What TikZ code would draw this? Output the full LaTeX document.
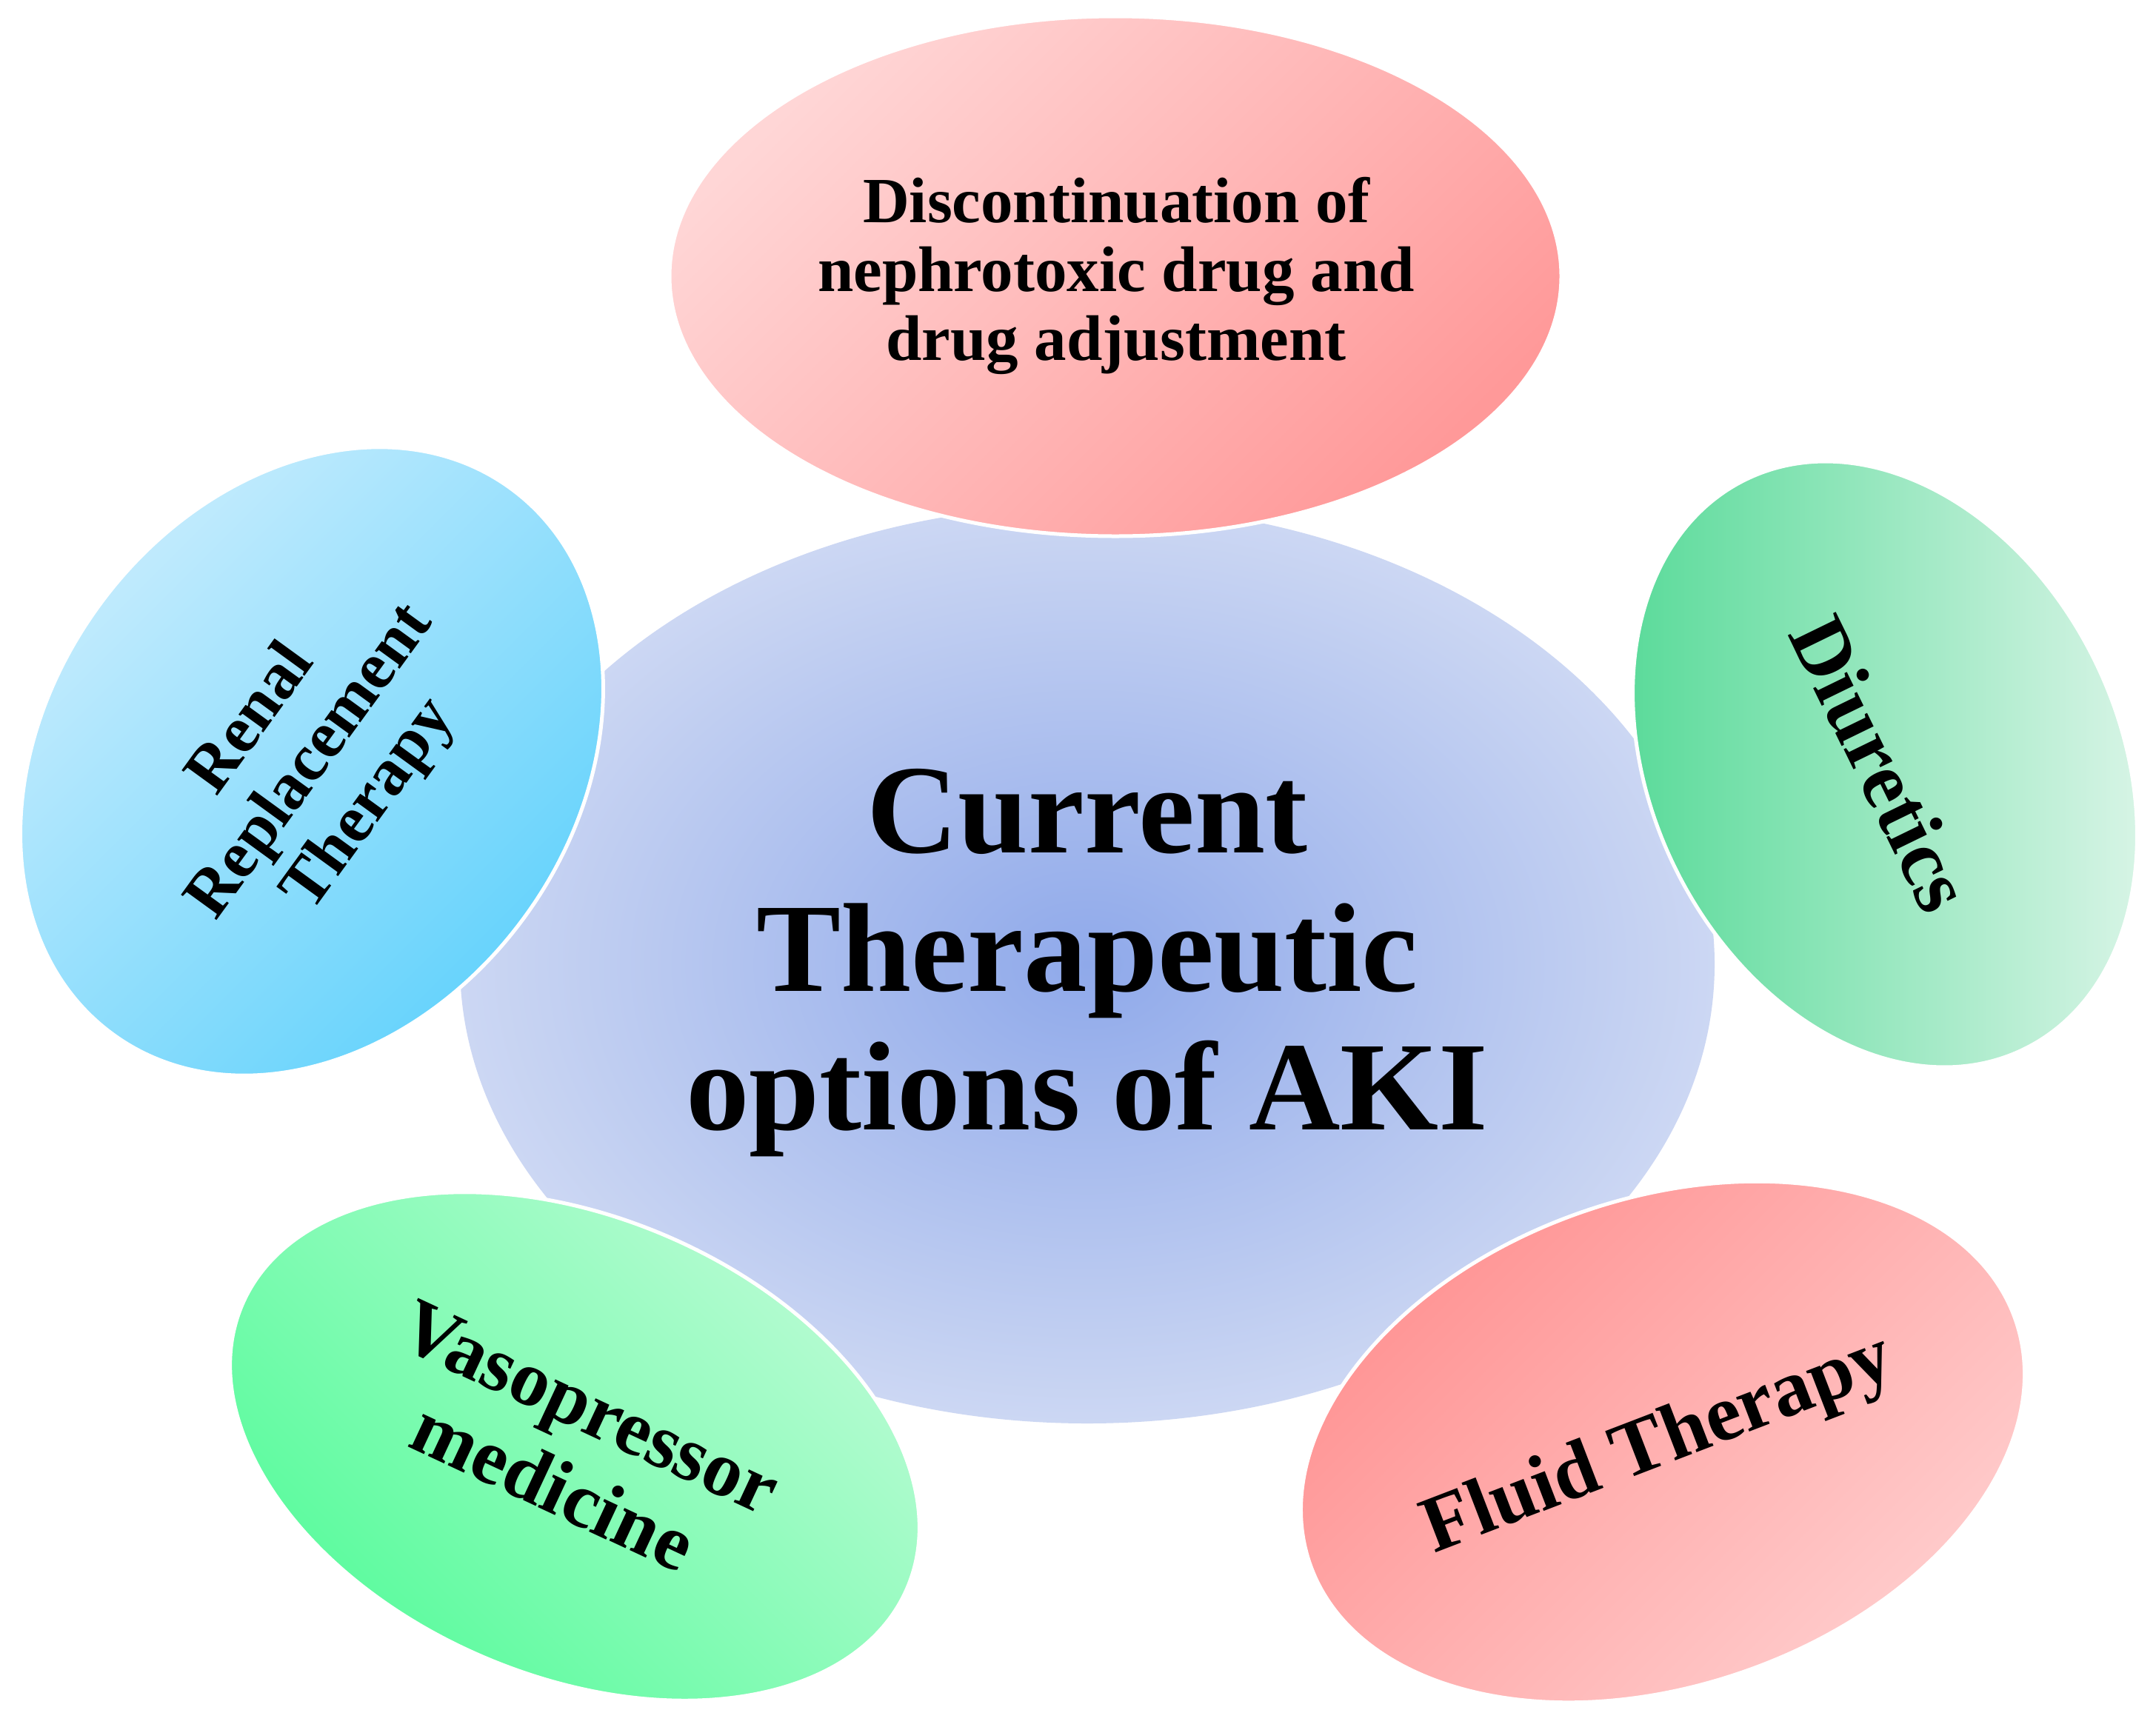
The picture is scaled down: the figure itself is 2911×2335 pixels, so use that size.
\documentclass[tikz,border=0pt]{standalone}
\usepackage{fontspec}
\setmainfont{Liberation Serif}
\definecolor{cin}{HTML}{8FA9EA}
\definecolor{cout}{HTML}{CCD7F3}
\definecolor{rtl}{HTML}{FFD6D6}
\definecolor{rbr}{HTML}{FF9999}
\definecolor{btl}{HTML}{C6ECFD}
\definecolor{bbr}{HTML}{62D2FC}
\definecolor{gl}{HTML}{5CDB9B}
\definecolor{gr}{HTML}{D6F4E5}
\definecolor{gbl}{HTML}{58FB9C}
\definecolor{gtr}{HTML}{B8FBD3}
\definecolor{ftl}{HTML}{FF9393}
\definecolor{fbr}{HTML}{FFCDCD}
\begin{document}
\begin{tikzpicture}[x=0.25pt,y=-0.25pt,
  lbl/.style={align=center, inner sep=0pt, text=black},
  rim/.style={draw=white, line width=1.25pt}]
\useasboundingbox (0,0) rectangle (2911,2335);
\fill[white] (0,0) rectangle (2911,2335);

% central ellipse
\shade[inner color=cin, outer color=cout] (1468,1302) ellipse [x radius=847, y radius=620];

% top: discontinuation
\begin{scope}
  \clip (1506,373) ellipse [x radius=602, y radius=351];
  \shade[top color=rtl, bottom color=rbr, shading angle=45] (904,22) rectangle (2108,724);
\end{scope}
\draw[rim] (1506,373) ellipse [x radius=602, y radius=351];

% left: renal replacement therapy
\begin{scope}
  \clip[rotate around={54:(421,1028)}] (421,1028) ellipse [x radius=456, y radius=356];
  \shade[top color=btl, bottom color=bbr, shading angle=45] (27,602) rectangle (815,1454);
\end{scope}
\draw[rim, rotate around={54:(421,1028)}] (421,1028) ellipse [x radius=456, y radius=356];

% right: diuretics
\begin{scope}
  \clip[rotate around={-64:(2545,1032)}] (2545,1032) ellipse [x radius=428, y radius=316];
  \shade[left color=gl, right color=gr] (2205,623) rectangle (2885,1441);
\end{scope}
\draw[rim, rotate around={-64:(2545,1032)}] (2545,1032) ellipse [x radius=428, y radius=316];

% bottom left: vasopressor
\begin{scope}
  \clip[rotate around={-23:(776,1953)}] (776,1953) ellipse [x radius=488, y radius=310];
  \shade[top color=gtr, bottom color=gbl, shading angle=-45] (311,1610) rectangle (1241,2296);
\end{scope}
\draw[rim, rotate around={-23:(776,1953)}] (776,1953) ellipse [x radius=488, y radius=310];

% bottom right: fluid therapy
\begin{scope}
  \clip[rotate around={19:(2245,1947)}] (2245,1947) ellipse [x radius=504, y radius=329];
  \shade[top color=ftl, bottom color=fbr, shading angle=45] (1756,1596) rectangle (2734,2298);
\end{scope}
\draw[rim, rotate around={19:(2245,1947)}] (2245,1947) ellipse [x radius=504, y radius=329];

% labels
\node[lbl, font=\bfseries\fontsize{42.75pt}{46.8pt}\selectfont] (core) at (1468,1300)
  {Current\\Therapeutic\\options of AKI};
\node[lbl, font=\bfseries\fontsize{21.75pt}{23.25pt}\selectfont] (disc) at (1507,372)
  {Discontinuation of\\nephrotoxic drug and\\drug adjustment};
\node[lbl, rotate=54, font=\bfseries\fontsize{22.5pt}{24.5pt}\selectfont] (rrt) at (421,1030)
  {Renal\\Replacement\\Therapy};
\node[lbl, rotate=-64, font=\bfseries\fontsize{27.5pt}{30pt}\selectfont] (diu) at (2540,1031)
  {Diuretics};
\node[lbl, rotate=-25, font=\bfseries\fontsize{26.5pt}{29.5pt}\selectfont] (vaso) at (772,1954)
  {Vasopressor\\medicine};
\node[lbl, rotate=21, font=\bfseries\fontsize{27pt}{29pt}\selectfont] (fluid) at (2240,1953)
  {Fluid Therapy};
\end{tikzpicture}
\end{document}
